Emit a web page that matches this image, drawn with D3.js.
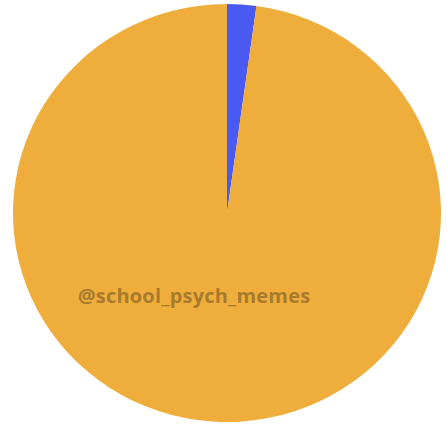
<!DOCTYPE html>
<html><head><meta charset="utf-8">
<script src="https://cdn.jsdelivr.net/npm/d3@7"></script>
<style>body{margin:0;background:#fff}svg{display:block}</style>
</head><body>
<script>
const categories = ["Blue", "Orange"];
const values = [2.2, 97.8];
const colors = ["#4A5AF0", "#EFAE3B"];
const watermark = "@school_psych_memes";

const W = 447, H = 426;
const cx = 227, cy = 213, rx = 214, ry = 209;
const svg = d3.select("body").append("svg").attr("width", W).attr("height", H);
const pie = d3.pie().sort(null).value(d => d)(values);
const arc = d3.arc().innerRadius(0).outerRadius(ry);
const g = svg.append("g").attr("transform", `translate(${cx},${cy}) scale(${rx/ry},1)`);
g.selectAll("path").data(pie).join("path")
  .attr("d", arc)
  .attr("fill", (d, i) => colors[i]);
svg.append("text")
  .attr("x", 194).attr("y", 303)
  .attr("text-anchor", "middle")
  .attr("font-family", "Open Sans, sans-serif")
  .attr("font-weight", "bold")
  .attr("font-size", 20)
  .attr("letter-spacing", 0.2)
  .attr("fill", "#A87A2C")
  .text(watermark);
</script>
</body></html>
